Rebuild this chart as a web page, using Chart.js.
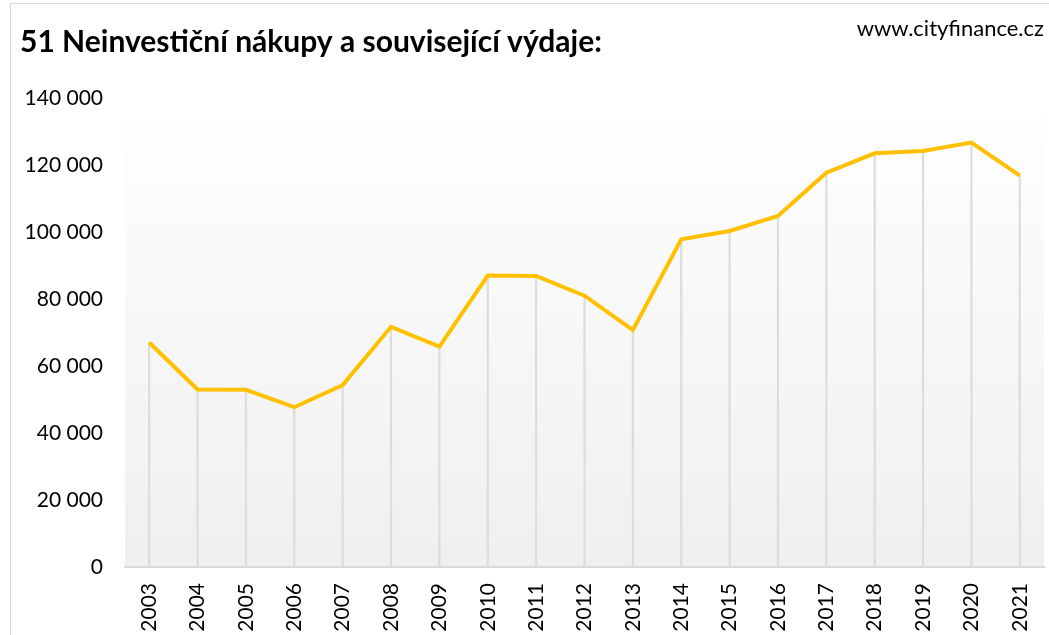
<!DOCTYPE html>
<html lang="cs">
<head>
<meta charset="utf-8">
<title>51 Neinvestiční nákupy a související výdaje</title>
<script src="https://cdn.jsdelivr.net/npm/chart.js@4.4.1/dist/chart.umd.min.js"></script>
<style>
  html, body { margin: 0; padding: 0; background: #fff; overflow: hidden; }
  #wrap { position: relative; width: 1049px; height: 635px; }
  #ramecek { position: absolute; left: 10px; top: 3px; width: 1200px; height: 800px;
    border-left: 1px solid #d9d9d9; border-top: 1px solid #d9d9d9; }
  #zdroj { position: absolute; right: 5px; top: 14px; font: 22px Lato, sans-serif; color: #000; }
  canvas { position: absolute; left: 0; top: 0; }
</style>
</head>
<body>
<div id="wrap">
  <div id="ramecek"></div>
  <canvas id="graf" width="1049" height="635"></canvas>
  <div id="zdroj">www.cityfinance.cz</div>
</div>
<script>
// data
const roky = ['2003', '2004', '2005', '2006', '2007', '2008', '2009', '2010', '2011', '2012',
              '2013', '2014', '2015', '2016', '2017', '2018', '2019', '2020', '2021'];
const vydaje = [67000, 53000, 52900, 47700, 54300, 71700, 65800, 87000, 86900, 81000,
                70700, 97800, 100300, 104800, 117700, 123500, 124200, 126700, 116800];
const osaY = [0, 20000, 40000, 60000, 80000, 100000, 120000, 140000];

const nadpis = '51 Neinvestiční nákupy a související výdaje:';
const pismo = 'Lato';

// mezera jako oddělovač tisíců
function formatCislo(v) {
  return String(v).replace(/\B(?=(\d{3})+(?!\d))/g, ' ');
}

// šedý přechod v ploše grafu
const pozadi = {
  id: 'pozadi',
  beforeDraw(chart) {
    const { ctx, chartArea: a } = chart;
    const g = ctx.createLinearGradient(0, a.top, 0, a.bottom);
    g.addColorStop(0, '#ffffff');
    g.addColorStop(1, '#efefef');
    ctx.save();
    ctx.fillStyle = g;
    ctx.fillRect(a.left, a.top, a.right - a.left, a.bottom - a.top);
    ctx.restore();
  }
};

const graf = new Chart(document.getElementById('graf'), {
  data: {
    labels: roky,
    datasets: [
      {
        // svislé spojnice k ose
        type: 'bar',
        data: vydaje,
        backgroundColor: '#dcdcdc',
        barThickness: 1.5,
        order: 2
      },
      {
        type: 'line',
        data: vydaje,
        borderColor: '#ffc000',
        borderWidth: 4,
        pointRadius: 0,
        tension: 0,
        order: 1
      }
    ]
  },
  options: {
    responsive: false,
    animation: false,
    layout: { padding: { left: 20, right: 5, top: 0, bottom: 0 } },
    plugins: {
      legend: { display: false },
      tooltip: { enabled: false },
      title: {
        display: true,
        text: nadpis,
        align: 'start',
        color: '#000',
        font: { family: pismo, size: 30, weight: 'bold', lineHeight: 1.2 },
        padding: { top: 24, bottom: 38 }
      }
    },
    scales: {
      x: {
        offset: true,
        grid: { display: false, drawTicks: false },
        border: { display: true, color: '#d9d9d9', width: 2 },
        ticks: {
          color: '#000',
          font: { family: pismo, size: 21 },
          minRotation: 90,
          maxRotation: 90,
          padding: 16
        },
        afterFit(osa) {
          osa.height = 68;
          osa.paddingRight = 0;
          osa.paddingLeft = 0;
        }
      },
      y: {
        min: 0,
        max: 140000,
        grid: { display: false, drawTicks: false },
        border: { display: false },
        afterBuildTicks(osa) { osa.ticks = osaY.map(v => ({ value: v })); },
        ticks: {
          color: '#000',
          font: { family: pismo, size: 21 },
          padding: 22,
          callback: v => formatCislo(v)
        },
        afterFit(osa) { osa.width = 105; }
      }
    }
  },
  plugins: [pozadi]
});
</script>
</body>
</html>
